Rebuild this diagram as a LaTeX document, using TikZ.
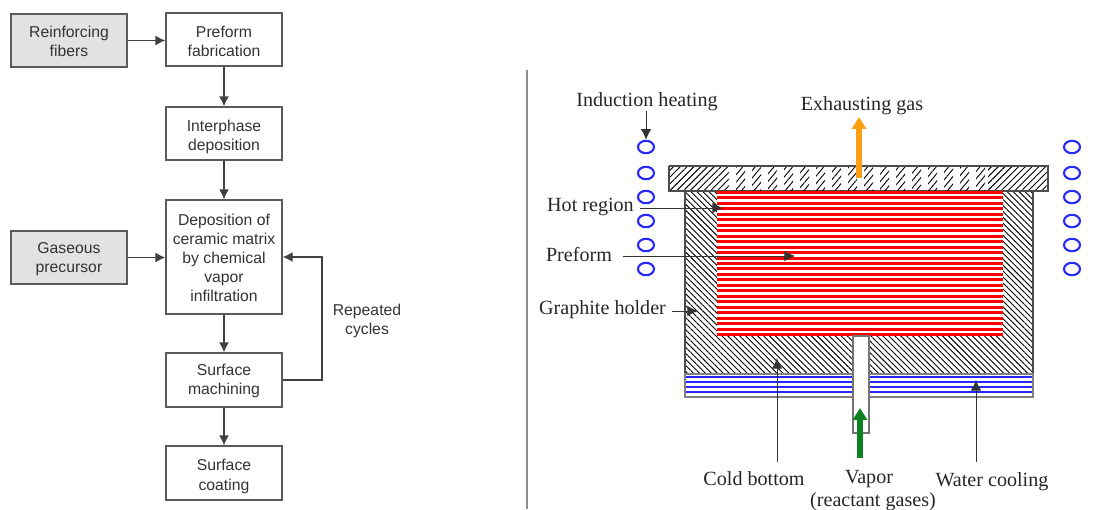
\documentclass[tikz,border=0pt]{standalone}
\usepackage{fontspec}
\setmainfont{Liberation Serif}
\setsansfont{Liberation Sans}
\usetikzlibrary{positioning,arrows.meta,patterns.meta,shapes.geometric}
\definecolor{boxgrey}{RGB}{226,226,224}
\definecolor{edgegrey}{RGB}{90,90,90}
\definecolor{coilblue}{RGB}{40,40,250}
\definecolor{heatorange}{RGB}{255,160,20}
\definecolor{vaporgreen}{RGB}{10,130,30}
\newcommand{\padtop}[1]{\rule{0pt}{#1}}
\tikzset{
  flowbox/.style={draw=edgegrey,line width=1pt,fill=white,minimum width=2.9cm,
    align=center,text=black!80,inner sep=0pt,
    font=\sffamily\fontsize{11.2}{13.6}\selectfont},
  inputbox/.style={flowbox,fill=boxgrey},
  flowarrow/.style={draw=black!75,line width=0.8pt,-{Latex[length=7pt,width=7pt]}},
  partlabel/.style={text=black!85,inner sep=0pt,font=\fontsize{14.3}{16}\selectfont},
  notearrow/.style={draw=black!80,line width=0.7pt,-{Latex[length=7.5pt,width=7.5pt]}},
  coil/.style={draw=coilblue,line width=1.5pt,ellipse,minimum width=0.4cm,
    minimum height=0.31cm,inner sep=0pt},
  fatarrow/.style={line width=3.8pt,-{Triangle[length=8.5pt,width=10pt]}},
}
\begin{document}
\begin{tikzpicture}[x=0.025cm,y=-0.025cm]
  \useasboundingbox (0,0) rectangle (1116,509);
  % flow chart
  \node[inputbox,minimum height=1.325cm] (fibers) at (69,40.5) {\padtop{9.5pt}Reinforcing\\fibers};
  \node[flowbox,minimum height=1.325cm] (preform) at (224,39.5) {\padtop{11pt}Preform\\fabrication};
  \node[flowbox,minimum height=1.325cm] (interphase) at (224,133.5) {\padtop{13pt}Interphase\\deposition};
  \node[flowbox,minimum height=2.85cm] (matrix) at (224,257) {\padtop{9.5pt}Deposition of\\ceramic matrix\\by chemical\\vapor\\infiltration};
  \node[inputbox,minimum height=1.325cm] (precursor) at (69,257.5) {\padtop{10pt}Gaseous\\precursor};
  \node[flowbox,minimum height=1.35cm] (machining) at (224,380) {\padtop{9.5pt}Surface\\machining};
  \node[flowbox,minimum height=1.35cm] (coating) at (224,473) {\padtop{13pt}Surface\\coating};
  \node[align=center,text=black!80,inner sep=0pt,font=\sffamily\fontsize{11.2}{13.6}\selectfont] (cycles) at (367,321) {Repeated\\cycles};
  \draw[flowarrow] (fibers.east) -- (preform.west |- fibers.east);
  \draw[flowarrow] (preform) -- (interphase);
  \draw[flowarrow] (interphase) -- (matrix);
  \draw[flowarrow] (precursor) -- (matrix.west |- precursor);
  \draw[flowarrow] (matrix) -- (machining);
  \draw[flowarrow] (machining) -- (coating);
  \draw[flowarrow] (machining.east) -- (322,380) -- (322,257) -- (matrix.east);
  % divider
  \draw[black!45,line width=1.8pt] (527,70) -- (527,509);
  % holder
  \fill[white] (685,191) rectangle (1033,374);
  \fill[pattern={Lines[angle=-45,distance=3pt,line width=0.65pt]}] (685,191) rectangle (1033,374);
  \draw[black!70,line width=0.8pt] (685,191) rectangle (1033,374);
  % top plate
  \fill[pattern={Lines[angle=45,distance=3.4pt,line width=0.65pt]}] (669,166) rectangle (729,191);
  \fill[pattern={Lines[angle=45,distance=3.4pt,line width=0.65pt]}] (988,166) rectangle (1048,191);
  \foreach \i in {0,...,15}
    \fill[pattern={Lines[angle=50,distance=3.4pt,line width=0.65pt]}] (736+16*\i,166) rectangle (745+16*\i,191);
  \draw[black!70,line width=0.8pt] (669,166) -- (1048,166) -- (1048,191) -- (988,191);
  \draw[black!70,line width=0.8pt] (669,166) -- (669,191) -- (729,191);
  % hot region
  \fill[white] (717,191) rectangle (1003,336);
  \foreach \y in {0,...,26}
    \fill[red] (717,191+5.46*\y) rectangle (1003,194+5.46*\y);
  % water cooling
  \fill[white] (685,374) rectangle (1033,397);
  \foreach \y in {377,382,387,392}
    \draw[coilblue,line width=0.9pt] (685,\y) -- (1033,\y);
  \draw[black!50,line width=1.8pt] (685,374) rectangle (1033,397);
  % vapor tube
  \draw[black!55,line width=1pt,fill=white] (853,336) rectangle (869,433);
  % coils
  \foreach \y [count=\n] in {147,173,197,221,245,269} {
    \node[coil] (coilL\n) at (646,\y) {};
    \node[coil] (coilR\n) at (1072,\y) {};
  }
  % labels
  \node[partlabel] (induction) at (647,102) {Induction heating};
  \node[partlabel] (exhaust) at (862,106) {Exhausting gas};
  \node[partlabel] (hotlabel) at (590.5,207) {Hot region};
  \node[partlabel] (prelabel) at (579,255) {Preform};
  \node[partlabel] (holderlabel) at (602.5,310) {Graphite holder};
  \node[partlabel] (coldlabel) at (754,479) {Cold bottom};
  \node[partlabel] (vaporlabel) at (869,479.5) {Vapor};
  \node[partlabel] (gaseslabel) at (873,502) {(reactant gases)};
  \node[partlabel] (waterlabel) at (992,482) {Water cooling};
  % arrows
  \coordinate (hotstart) at (640,208);
  \coordinate (hottip) at (723,208);
  \coordinate (prestart) at (623,256);
  \coordinate (pretip) at (795,256);
  \coordinate (holderstart) at (672,311);
  \coordinate (holdertip) at (698,311);
  \coordinate (coldstart) at (777,462);
  \coordinate (coldtip) at (777,358);
  \coordinate (waterstart) at (976,462);
  \coordinate (watertip) at (976,380);
  \coordinate (gasstart) at (859,178);
  \coordinate (gastip) at (859,117);
  \coordinate (vaporstart) at (860,458);
  \coordinate (vaportip) at (860,408);
  \draw[notearrow] (induction.south -| coilL1) -- (coilL1.north);
  \draw[notearrow] (hotstart) -- (hottip);
  \draw[notearrow] (prestart) -- (pretip);
  \draw[notearrow] (holderstart) -- (holdertip);
  \draw[notearrow] (coldstart) -- (coldtip);
  \draw[notearrow] (waterstart) -- (watertip);
  \draw[heatorange,fatarrow] (gasstart) -- (gastip);
  \draw[vaporgreen,fatarrow] (vaporstart) -- (vaportip);
\end{tikzpicture}
\end{document}
